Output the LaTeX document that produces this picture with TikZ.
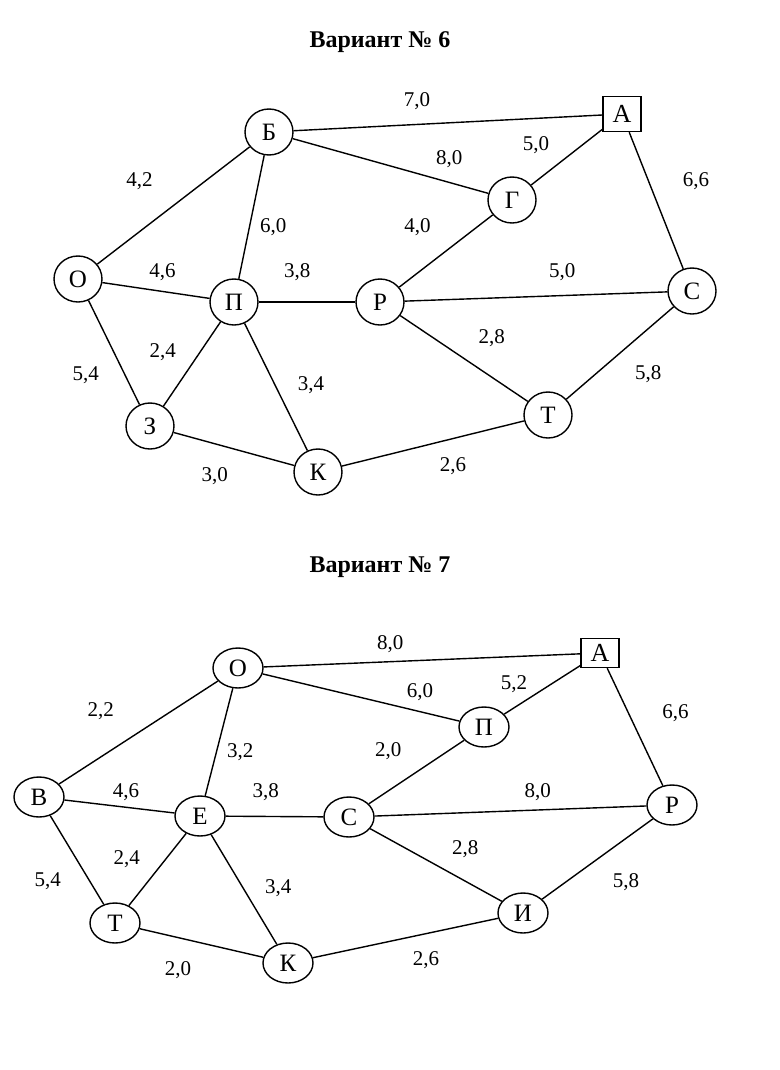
\documentclass[tikz,border=0pt]{standalone}
\usepackage{fontspec}
\setmainfont{Liberation Serif}
\usetikzlibrary{positioning,shapes.geometric}

\begin{document}
\begin{tikzpicture}[x=1pt,y=-1pt,
	v/.style={ellipse, draw, line width=1.4pt, minimum width=48pt, minimum height=46pt, inner sep=0pt, font=\fontsize{25}{25}\selectfont},
	vv/.style={v, minimum width=50pt, minimum height=40pt},
	src/.style={rectangle, draw, line width=1.4pt, minimum width=38pt, minimum height=35pt, inner sep=0pt, font=\fontsize{26}{26}\selectfont},
	w/.style={inner sep=0pt, font=\fontsize{21}{21}\selectfont},
	every edge/.style={draw, line width=1.4pt}]

	\useasboundingbox (0,0) rectangle (779,1070);

	% variant 6
	\node (t6) [font=\bfseries\fontsize{24}{24}\selectfont] at (380,42) {Вариант № 6};

	\node (b6) [v] at (269,132) {Б};
	\node (a6) [src] at (622,114) {А};
	\node (g6) [v] at (512,200) {Г};
	\node (o6) [v] at (78,279) {О};
	\node (p6) [v] at (234,302) {П};
	\node (r6) [v] at (380,302) {Р};
	\node (s6) [v] at (692,291) {С};
	\node (z6) [v] at (150,426) {З};
	\node (k6) [v] at (318,472) {К};
	\node (tt6) [v] at (548,415) {Т};

	\path
	(b6) edge node[w, above=14pt, pos=0.4] {7,0} (a6)
	(b6) edge node[w, above=14pt, pos=0.8] {8,0} (g6)
	(g6) edge node[w, above left=13pt and 4pt, pos=0.32] {5,0} (a6)
	(a6) edge node[w, above right=7pt and 27pt, pos=0.48] {6,6} (s6)
	(b6) edge node[w, above left=22pt and 11pt, pos=0.56] {4,2} (o6)
	(b6) edge node[w, right=10pt, pos=0.58] {6,0} (p6)
	(g6) edge node[w, above left=19pt and 9pt, pos=0.56] {4,0} (r6)
	(o6) edge node[w, above=10pt, pos=0.56] {4,6} (p6)
	(p6) edge node[w, above=21pt, pos=0.4] {3,8} (r6)
	(r6) edge node[w, above=14pt, pos=0.6] {5,0} (s6)
	(o6) edge node[w, below left=6pt and 18pt, pos=0.57] {5,4} (z6)
	(z6) edge node[w, above left=8pt and 12pt, pos=0.44] {2,4} (p6)
	(p6) edge node[w, above right=5pt and 15pt, pos=0.6] {3,4} (k6)
	(r6) edge node[w, above right=17pt and 5pt, pos=0.57] {2,8} (tt6)
	(s6) edge node[w, below right=16pt and 9pt, pos=0.45] {5,8} (tt6)
	(z6) edge node[w, below=23pt, pos=0.34] {3,0} (k6)
	(k6) edge node[w, below=18pt, pos=0.61] {2,6} (tt6);

	% variant 7
	\node (t7) [font=\bfseries\fontsize{24}{24}\selectfont] at (380,567) {Вариант № 7};

	\node (o7) [vv] at (238,668) {О};
	\node (a7) [src, minimum height=29pt] at (600,653) {А};
	\node (p7) [vv] at (484,727) {П};
	\node (v7) [vv] at (39,797) {В};
	\node (e7) [vv] at (200,816) {Е};
	\node (s7) [vv] at (349,817) {С};
	\node (r7) [vv] at (672,805) {Р};
	\node (tt7) [vv] at (115,923) {Т};
	\node (i7) [vv] at (523,913) {И};
	\node (k7) [vv] at (288,963) {К};

	\path
	(o7) edge node[w, above=8pt, pos=0.4] {8,0} (a7)
	(o7) edge node[w, above=10pt, pos=0.8] {6,0} (p7)
	(p7) edge node[w, above=14pt, pos=0.13] {5,2} (a7)
	(a7) edge node[w, above right=8pt and 25pt, pos=0.53] {6,6} (r7)
	(o7) edge node[w, above left=22pt and 8pt, pos=0.6] {2,2} (v7)
	(o7) edge node[w, right=10pt, pos=0.59] {3,2} (e7)
	(p7) edge node[w, above left=18pt and 5pt, pos=0.6] {2,0} (s7)
	(v7) edge node[w, above=6pt, pos=0.56] {4,6} (e7)
	(e7) edge node[w, above=15pt, pos=0.41] {3,8} (s7)
	(s7) edge node[w, above=9pt, pos=0.6] {8,0} (r7)
	(v7) edge node[w, below left=9pt and 17pt, pos=0.53] {5,4} (tt7)
	(tt7) edge node[w, above left=10pt and 10pt, pos=0.38] {2,4} (e7)
	(e7) edge node[w, above right=6pt and 12pt, pos=0.63] {3,4} (k7)
	(s7) edge node[w, above right=15pt and 1pt, pos=0.61] {2,8} (i7)
	(i7) edge node[w, below right=19pt and 7pt, pos=0.57] {5,8} (r7)
	(tt7) edge node[w, below=23pt, pos=0.31] {2,0} (k7)
	(k7) edge node[w, below=17pt, pos=0.61] {2,6} (i7);

\end{tikzpicture}
\end{document}
